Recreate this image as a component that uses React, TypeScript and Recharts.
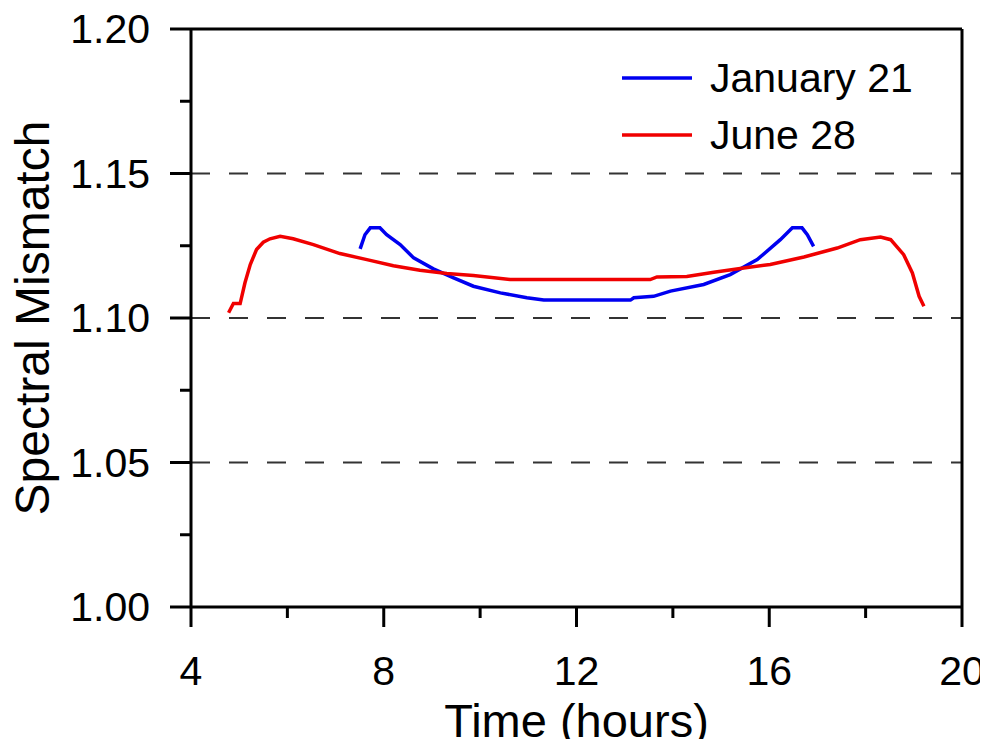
import React from "react";
import { LineChart, Line, XAxis, YAxis, ReferenceLine } from "recharts";

const janTime = [7.51, 7.61, 7.72, 7.92, 8.06, 8.34, 8.62, 9.03, 9.45, 9.86, 10.42, 10.97, 11.32, 13.12, 13.19, 13.6, 13.95, 14.64, 15.19, 15.75, 16.23, 16.48, 16.68, 16.79, 16.92];
const janValue = [1.1239, 1.1288, 1.1312, 1.1312, 1.1288, 1.1254, 1.1208, 1.117, 1.1139, 1.111, 1.1087, 1.107, 1.1062, 1.1062, 1.107, 1.1075, 1.1093, 1.1116, 1.115, 1.1202, 1.1271, 1.1312, 1.1312, 1.1288, 1.1248];

const junTime = [4.78, 4.88, 5.02, 5.12, 5.23, 5.36, 5.5, 5.64, 5.85, 6.12, 6.54, 7.09, 7.65, 8.2, 8.75, 9.31, 9.86, 10.62, 13.53, 13.67, 14.29, 14.85, 15.47, 16.02, 16.72, 17.41, 17.89, 18.31, 18.52, 18.79, 18.97, 19.11, 19.21];
const junValue = [1.1018, 1.105, 1.105, 1.1122, 1.1185, 1.1237, 1.1262, 1.1274, 1.1283, 1.1274, 1.1254, 1.1223, 1.1202, 1.1181, 1.1165, 1.1154, 1.1147, 1.1133, 1.1133, 1.1142, 1.1144, 1.1158, 1.1173, 1.1185, 1.1211, 1.1242, 1.1271, 1.128, 1.1271, 1.1219, 1.1156, 1.1075, 1.1041];

const xTicks = [4, 6, 8, 10, 12, 14, 16, 18, 20];
const xMajor = [4, 8, 12, 16, 20];
const yTicks = [1.0, 1.025, 1.05, 1.075, 1.1, 1.125, 1.15, 1.175, 1.2];
const yMajor = [1.0, 1.05, 1.1, 1.15, 1.2];
const gridValues = [1.05, 1.1, 1.15];
const seriesNames = ["January 21", "June 28"];
const seriesColors = ["#0000f0", "#f00000"];
const xTitle = "Time (hours)";
const yTitle = "Spectral Mismatch";

const janData = janTime.map((t, i) => ({ t, v: janValue[i] }));
const junData = junTime.map((t, i) => ({ t, v: junValue[i] }));

const FONT = "'Liberation Sans', Arial, Helvetica, sans-serif";
const AXW = 3;

const isMajor = (v: number, majors: number[]) => majors.some((m) => Math.abs(m - v) < 1e-6);

const XTick = (props: any) => {
  const { x, y, payload } = props;
  const major = isMajor(payload.value, xMajor);
  return (
    <g>
      <line x1={x} x2={x} y1={y} y2={y + (major ? 20 : 11)} stroke="#000" strokeWidth={AXW} />
      {major && (
        <text x={x} y={y + 78} textAnchor="middle" fontSize={41} fontFamily={FONT} fill="#000">
          {payload.value}
        </text>
      )}
    </g>
  );
};

const YTick = (props: any) => {
  const { x, y, payload } = props;
  const major = isMajor(payload.value, yMajor);
  return (
    <g>
      <line x1={x - (major ? 21 : 11)} x2={x} y1={y} y2={y} stroke="#000" strokeWidth={AXW} />
      {major && (
        <text x={x - 41} y={y + 14} textAnchor="end" fontSize={41} fontFamily={FONT} fill="#000">
          {Number(payload.value).toFixed(2)}
        </text>
      )}
    </g>
  );
};

const XTitle = (props: any) => {
  const vb = props.viewBox || {};
  const cx = (vb.x ?? 191) + (vb.width ?? 771) / 2;
  const top = vb.y ?? 607;
  return (
    <text x={cx} y={top + 130} textAnchor="middle" fontSize={47} fontFamily={FONT} fill="#000">
      {xTitle}
    </text>
  );
};

const YTitle = (props: any) => {
  const vb = props.viewBox || {};
  const cy = (vb.y ?? 29) + (vb.height ?? 578) / 2;
  const bx = 49;
  return (
    <text
      x={bx}
      y={cy}
      transform={`rotate(-90 ${bx} ${cy})`}
      textAnchor="middle"
      fontSize={48}
      fontFamily={FONT}
      fill="#000"
    >
      {yTitle}
    </text>
  );
};

export default function App() {
  return (
    <div style={{ width: 988, height: 747, position: "relative", margin: -8, overflow: "hidden" }}>
      <LineChart width={988} height={747} margin={{ top: 29, right: 26, bottom: 0, left: 0 }}>
        <XAxis
          dataKey="t"
          type="number"
          domain={[4, 20]}
          ticks={xTicks}
          allowDataOverflow
          height={140}
          tickSize={0}
          tickMargin={0}
          tick={<XTick />}
          axisLine={{ stroke: "#000", strokeWidth: AXW }}
          tickLine={false}
          label={<XTitle />}
        />
        <YAxis
          type="number"
          domain={[1.0, 1.2]}
          ticks={yTicks}
          allowDataOverflow
          width={191}
          tickSize={0}
          tickMargin={0}
          tick={<YTick />}
          axisLine={{ stroke: "#000", strokeWidth: AXW }}
          tickLine={false}
          label={<YTitle />}
        />
        {gridValues.map((g) => (
          <ReferenceLine key={g} y={g} stroke="#333" strokeWidth={2} strokeDasharray="19 19" />
        ))}
        <ReferenceLine y={1.2} stroke="#000" strokeWidth={AXW} />
        <ReferenceLine x={20} stroke="#000" strokeWidth={AXW} />
        <Line
          data={janData}
          dataKey="v"
          name={seriesNames[0]}
          type="linear"
          stroke={seriesColors[0]}
          strokeWidth={3.5}
          dot={false}
          isAnimationActive={false}
        />
        <Line
          data={junData}
          dataKey="v"
          name={seriesNames[1]}
          type="linear"
          stroke={seriesColors[1]}
          strokeWidth={3.5}
          dot={false}
          isAnimationActive={false}
        />
      </LineChart>
      <svg
        width={330}
        height={130}
        style={{ position: "absolute", left: 608, top: 38, display: "block" }}
      >
        {seriesNames.map((name, i) => (
          <g key={name}>
            <line x1={14} x2={84} y1={40 + i * 57} y2={40 + i * 57} stroke={seriesColors[i]} strokeWidth={3.5} />
            <text x={102} y={54 + i * 57} fontSize={41} fontFamily={FONT} fill="#000">
              {name}
            </text>
          </g>
        ))}
      </svg>
    </div>
  );
}
